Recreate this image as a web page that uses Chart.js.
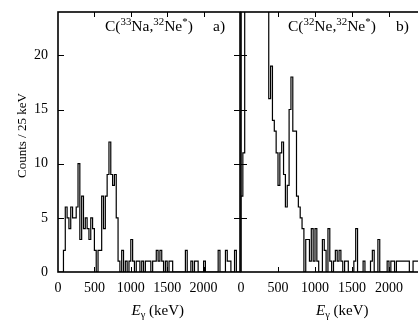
<!DOCTYPE html>
<html>
<head>
<meta charset="utf-8">
<script src="https://cdn.jsdelivr.net/npm/chart.js@4"></script>
<style>
html,body{margin:0;padding:0;background:#fff;}
body{position:relative;width:418px;height:322px;overflow:hidden;}
canvas{position:absolute;top:0;}
#cA{left:0;}
#cB{left:229px;}
.t{position:absolute;font-family:"Liberation Serif","Times New Roman",serif;color:#000;white-space:nowrap;line-height:1;}
.t sup{font-size:0.7em;vertical-align:0;position:relative;top:-0.6em;}
.t sub{font-size:0.7em;vertical-align:0;position:relative;top:0.3em;}
</style>
</head>
<body>
<canvas id="cA" width="243" height="322"></canvas>
<canvas id="cB" width="200" height="322"></canvas>

<div class="t" style="left:105px;top:18px;font-size:15.5px;">C(<sup>33</sup>Na,<sup>32</sup>Ne<sup>*</sup>)</div>
<div class="t" style="left:213px;top:18px;font-size:15.5px;">a)</div>
<div class="t" style="left:288px;top:18px;font-size:15.5px;">C(<sup>32</sup>Ne,<sup>32</sup>Ne<sup>*</sup>)</div>
<div class="t" style="left:396px;top:18px;font-size:15.5px;">b)</div>
<div class="t" id="xtA" style="top:303px;font-size:15px;"><i>E</i><sub>γ</sub> (keV)</div>
<div class="t" id="xtB" style="top:303px;font-size:15px;"><i>E</i><sub>γ</sub> (keV)</div>
<div class="t" id="yt" style="font-size:13px;transform-origin:0 0;">Counts / 25 keV</div>

<script>
// ---- data ----
const BIN_WIDTH = 25;      // keV per bin
const X_MAX = 2500;        // keV
const Y_MAX = 24;
const xTickValues = [0, 500, 1000, 1500, 2000];
const yTickValues = [0, 5, 10, 15, 20];

// panel a) C(33Na,32Ne*) : counts per 25 keV bin, starting at 0 keV
const countsA = [
  0,0,0,2,6,5,4,6,5,5,
  6,10,3,7,4,5,4,3,5,4,
  2,0,2,2,7,4,7,9,12,9,
  8,9,5,1,0,2,0,1,0,1,
  3,1,0,1,1,0,1,0,1,1,
  1,0,1,1,2,1,2,1,0,1,
  0,1,1,0,0,0,0,0,0,0,
  2,0,0,1,0,1,1,0,0,0,
  1,0,0,0,0,0,0,0,2,0,
  0,0,2,1,1,0,0,2,0,0
];

// panel b) C(32Ne,32Ne*) : counts per 25 keV bin (values > 24 run off scale)
const countsB = [
  7,11,30,30,30,30,30,30,30,30,
  30,30,30,30,30,16,19,14,13,11,
  8,11,12,9,6,8,15,18,13,13,
  7,6,5,4,0,3,3,1,4,1,
  4,1,0,0,3,2,0,4,1,0,
  1,2,1,2,1,0,1,1,0,0,
  0,1,4,0,0,0,1,0,0,0,
  1,2,0,0,3,0,0,0,0,1,
  0,1,1,0,1,1,1,1,1,1,
  1,0,0,1,1,1,0,0,0,0
];

// ---- helpers ----
function histPoints(counts) {
  const pts = counts.map((c, i) => ({ x: i * BIN_WIDTH, y: c }));
  pts.push({ x: counts.length * BIN_WIDTH, y: counts[counts.length - 1] });
  return pts;
}

const framePlugin = {
  id: 'frame',
  afterDatasetsDraw(chart) {
    const { ctx, chartArea: a, scales: { x, y } } = chart;
    ctx.save();
    ctx.strokeStyle = '#000';
    ctx.lineWidth = 1;
    ctx.beginPath();
    xTickValues.forEach(v => {
      if (v <= 0) return;
      const px = Math.round(x.getPixelForValue(v)) + 0.5;
      ctx.moveTo(px, a.top); ctx.lineTo(px, a.top + 5);
      ctx.moveTo(px, a.bottom); ctx.lineTo(px, a.bottom - 5);
    });
    yTickValues.forEach(v => {
      if (v <= 0) return;
      const py = Math.round(y.getPixelForValue(v)) + 0.5;
      ctx.moveTo(a.left, py); ctx.lineTo(a.left + 6, py);
      ctx.moveTo(a.right, py); ctx.lineTo(a.right - 6, py);
    });
    ctx.stroke();
    ctx.lineWidth = 1.6;
    ctx.strokeRect(a.left, a.top, a.right - a.left, a.bottom - a.top);
    ctx.restore();
  }
};

function makeChart(id, counts, showYLabels, padLeft) {
  return new Chart(document.getElementById(id), {
    type: 'line',
    data: {
      datasets: [{
        data: histPoints(counts),
        stepped: 'before',
        borderColor: '#000',
        borderWidth: 1.2,
        pointRadius: 0,
        fill: false,
        tension: 0
      }]
    },
    options: {
      responsive: false,
      animation: false,
      devicePixelRatio: 1,
      layout: { padding: { left: padLeft, right: 3, top: 12, bottom: 0 } },
      plugins: { legend: { display: false }, tooltip: { enabled: false } },
      scales: {
        x: {
          type: 'linear',
          min: 0, max: X_MAX,
          afterBuildTicks: s => { s.ticks = xTickValues.map(v => ({ value: v })); },
          afterFit: s => { s.height = 50; s.paddingLeft = 0; s.paddingRight = 0; },
          grid: { display: false, drawTicks: false },
          border: { display: false },
          ticks: {
            autoSkip: false, maxRotation: 0, padding: 8, color: '#000',
            font: { family: '"Liberation Serif", serif', size: 14 },
            callback: v => String(v)
          }
        },
        y: {
          min: 0, max: Y_MAX,
          afterBuildTicks: s => { s.ticks = yTickValues.map(v => ({ value: v })); },
          afterFit: s => { s.width = showYLabels ? 58 : 0; s.paddingTop = 0; s.paddingBottom = 0; },
          grid: { display: false, drawTicks: false },
          border: { display: false },
          ticks: {
            display: showYLabels,
            padding: 10, color: '#000',
            font: { family: '"Liberation Serif", serif', size: 14 },
            callback: v => String(v)
          }
        }
      }
    },
    plugins: [framePlugin]
  });
}

const chartA = makeChart('cA', countsA, true, 0);
const chartB = makeChart('cB', countsB, false, 12);

// position axis titles relative to the chart areas
function place() {
  const aA = chartA.chartArea, aB = chartB.chartArea;
  const offB = 229;
  const xtA = document.getElementById('xtA');
  const xtB = document.getElementById('xtB');
  xtA.style.left = ((aA.left + aA.right) / 2 + 9 - xtA.offsetWidth / 2) + 'px';
  xtB.style.left = (offB + (aB.left + aB.right) / 2 + 9 - xtB.offsetWidth / 2) + 'px';
  const yt = document.getElementById('yt');
  const w = yt.offsetWidth, h = yt.offsetHeight;
  const cy = 135;
  yt.style.left = (21 - h / 2) + 'px';
  yt.style.top = (cy + w / 2) + 'px';
  yt.style.transform = 'rotate(-90deg)';
}
place();
</script>
</body>
</html>
